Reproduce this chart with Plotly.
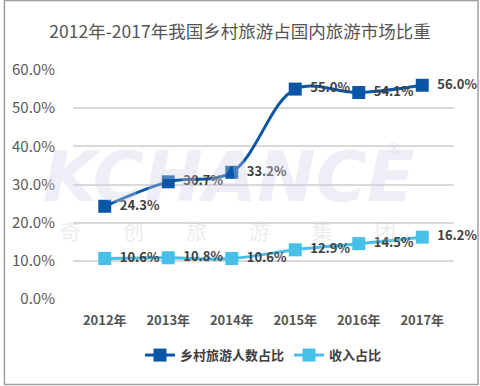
import plotly.graph_objects as go

years = ["2012年", "2013年", "2014年", "2015年", "2016年", "2017年"]
visitors_share = [24.3, 30.7, 33.2, 55.0, 54.1, 56.0]
income_share = [10.6, 10.8, 10.6, 12.9, 14.5, 16.2]
y_ticks = [0, 10, 20, 30, 40, 50, 60]
y_tick_labels = ["0.0%", "10.0%", "20.0%", "30.0%", "40.0%", "50.0%", "60.0%"]

font_family = "Microsoft YaHei, Noto Sans CJK SC, sans-serif"
label_font = dict(size=13, color="#404040", family=font_family, weight="bold")

fig = go.Figure()
fig.add_trace(go.Scatter(
    x=years, y=visitors_share, name="乡村旅游人数占比",
    mode="lines+markers+text",
    line=dict(color="#0A56A6", width=3, shape="spline", smoothing=1),
    marker=dict(symbol="square", size=13, color="#0A56A6"),
    text=[f"  {v:.1f}%" for v in visitors_share],
    textposition="middle right",
    textfont=label_font,
    cliponaxis=False,
))
fig.add_trace(go.Scatter(
    x=years, y=income_share, name="收入占比",
    mode="lines+markers+text",
    line=dict(color="#46C0E8", width=3, shape="spline", smoothing=1),
    marker=dict(symbol="square", size=13, color="#46C0E8"),
    text=[f"  {v:.1f}%" for v in income_share],
    textposition="middle right",
    textfont=label_font,
    cliponaxis=False,
))

# watermark
fig.add_annotation(text="<i><b>KCHANCE</b></i>", x=0.409, y=0.533, xref="paper", yref="paper",
                   showarrow=False, font=dict(size=70, color="rgba(205,205,230,0.35)", family="DejaVu Sans"))
fig.add_annotation(text="®", x=0.865, y=0.705, xref="paper", yref="paper",
                   showarrow=False, font=dict(size=14, color="rgba(205,205,230,0.5)", family="DejaVu Sans"))
fig.add_annotation(text="奇　　创　　旅　　游　　集　　团", x=0.406, y=0.226, xref="paper", yref="paper",
                   showarrow=False, font=dict(size=21, color="rgba(200,200,200,0.35)", family=font_family))

fig.update_layout(
    width=480, height=386,
    margin=dict(l=70, r=26, t=70, b=87),
    paper_bgcolor="white", plot_bgcolor="white",
    title=dict(text="2012年-2017年我国乡村旅游占国内旅游市场比重", x=0.5, xanchor="center", y=0.917,
               yanchor="middle", font=dict(size=17.5, color="#555555", family=font_family)),
    xaxis=dict(type="category", range=[-0.5, 5.5], showgrid=False, showline=False, ticks="",
               ticklabelstandoff=12,
               tickfont=dict(size=13, color="#555555", family=font_family, weight="bold")),
    yaxis=dict(range=[0, 60], tickvals=y_ticks, ticktext=y_tick_labels, showgrid=True,
               gridcolor="#D9D9D9", gridwidth=1.5, zeroline=False, showline=False,
               tickfont=dict(size=15, color="#595959", family=font_family), ticklen=14,
               ticks="outside", tickcolor="rgba(0,0,0,0)"),
    legend=dict(orientation="h", x=0.5, xanchor="center", y=-0.245, yanchor="middle",
                font=dict(size=13, color="#404040", family=font_family, weight="bold")),
    showlegend=True,
)
fig.add_shape(type="rect", xref="paper", yref="paper", x0=-0.18, x1=1.063, y0=-0.373, y1=1.303,
              line=dict(color="#A0A0A0", width=1.5))

fig.write_html("out.html", config={"displayModeBar": False},
               post_script="document.body.style.margin='0';document.body.style.padding='0';")
